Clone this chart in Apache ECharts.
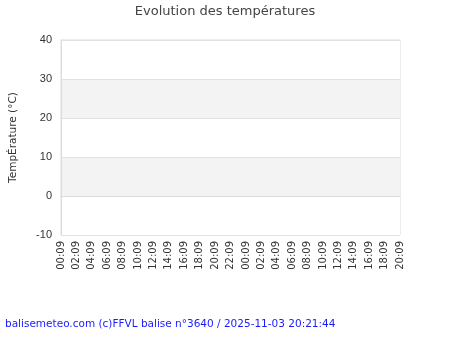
<!DOCTYPE html>
<html><head><meta charset="utf-8">
<script src="https://cdn.jsdelivr.net/npm/echarts@6/dist/echarts.min.js"></script>
<style>html,body{margin:0;padding:0;background:#fff}#c{width:450px;height:350px}</style>
</head><body><div id="c"></div>
<script>
const categories = ['00:09','02:09','04:09','06:09','08:09','10:09','12:09','14:09','16:09','18:09','20:09','22:09',
  '00:09','02:09','04:09','06:09','08:09','10:09','12:09','14:09','16:09','18:09','20:09'];
const temperatures = [null,null,null,null,null,null,null,null,null,null,null,null,
  null,null,null,null,null,null,null,null,null,null,null];
const yTicks = { min: -10, max: 40, interval: 10 };
const titleText = 'Evolution des températures';
const yName = 'TempÉrature (°C)';
const footer = 'balisemeteo.com (c)FFVL balise n°3640 / 2025-11-03 20:21:44';

const chart = echarts.init(document.getElementById('c'), null, {renderer:'canvas'});
chart.setOption({
  animation: false,
  textStyle: { fontFamily: 'DejaVu Sans' },
  title: { text: titleText, left: 'center', top: 0,
    textStyle: { fontSize: 13, fontWeight: 'normal', color: '#444', fontFamily: 'DejaVu Sans' } },
  grid: { left: 60, right: 50, top: 40, bottom: 115, show: true, borderColor: '#dcdcdc', borderWidth: 1, backgroundColor: 'transparent' },
  xAxis: { type: 'category', data: categories, boundaryGap: false,
    axisLine: { lineStyle: { color: '#dcdcdc' } }, axisTick: { show: false },
    axisLabel: { rotate: 90, interval: 0, fontSize: 10, color: '#333', margin: 6, fontFamily: 'DejaVu Sans' },
    splitLine: { show: false } },
  yAxis: { type: 'value', min: yTicks.min, max: yTicks.max, interval: yTicks.interval,
    name: yName, nameLocation: 'middle', nameGap: 42, nameRotate: 90,
    nameTextStyle: { fontSize: 10.5, color: '#333', fontFamily: 'DejaVu Sans' },
    axisLine: { show: true, lineStyle: { color: '#dcdcdc' } }, axisTick: { show: false },
    axisLabel: { fontSize: 11, color: '#333', margin: 9, fontFamily: 'Liberation Sans' },
    splitLine: { lineStyle: { color: '#e2e2e2' } },
    splitArea: { show: true, areaStyle: { color: ['#ffffff', '#f3f3f3'] } } },
  series: [{ type: 'line', data: temperatures, showSymbol: false }],
  graphic: [{ type: 'text', left: 5, top: 319,
    style: { text: footer, fill: '#1a1aff', font: '10.5px "DejaVu Sans"' } }]
});
</script></body></html>
